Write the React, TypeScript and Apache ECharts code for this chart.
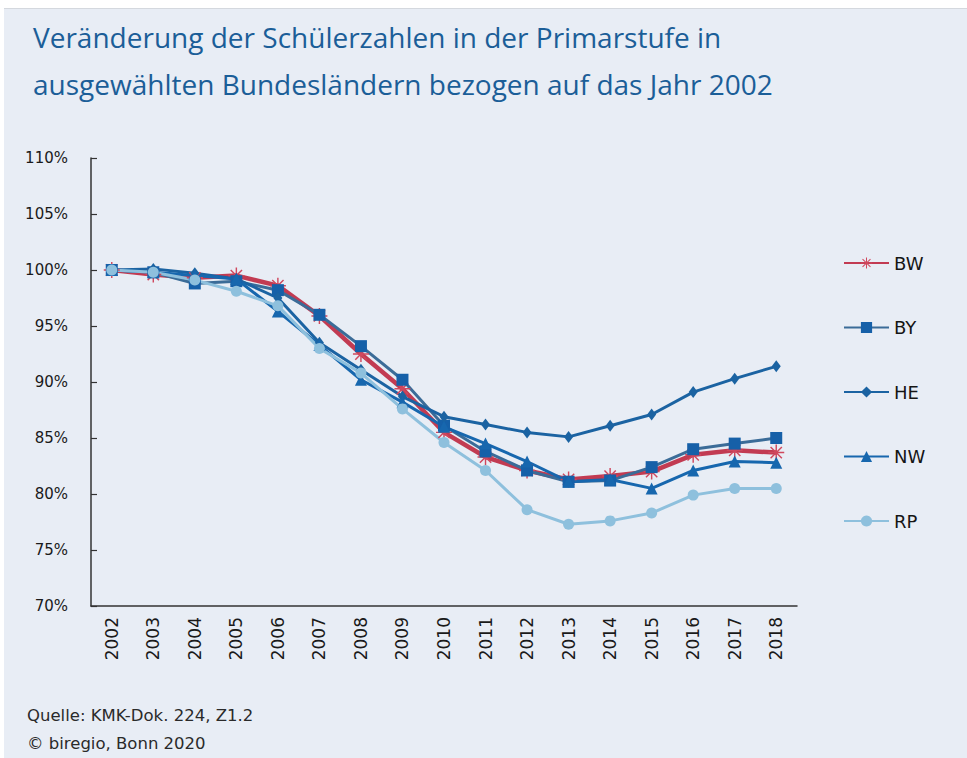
import React, { useEffect, useRef } from "react";
import * as echarts from "echarts";

const years = ["2002", "2003", "2004", "2005", "2006", "2007", "2008", "2009", "2010", "2011", "2012", "2013", "2014", "2015", "2016", "2017", "2018"];
const bw = [100, 99.6, 99.3, 99.5, 98.6, 95.9, 92.5, 89.4, 85.5, 83.3, 82.1, 81.3, 81.6, 82.0, 83.5, 83.9, 83.7];
const by = [100, 99.8, 98.8, 99.0, 98.2, 96.0, 93.2, 90.2, 86.1, 83.8, 82.1, 81.1, 81.2, 82.4, 84.0, 84.5, 85.0];
const he = [100, 100.1, 99.7, 99.2, 97.5, 93.5, 91.1, 88.7, 86.9, 86.2, 85.5, 85.1, 86.1, 87.1, 89.1, 90.3, 91.4];
const nw = [100, 99.8, 99.5, 99.2, 96.3, 93.3, 90.2, 88.2, 86.0, 84.5, 82.9, 81.1, 81.3, 80.5, 82.1, 82.9, 82.8];
const rp = [100, 99.8, 99.1, 98.1, 96.8, 93.0, 90.8, 87.6, 84.6, 82.1, 78.6, 77.3, 77.6, 78.3, 79.9, 80.5, 80.5];
const yTicks = { min: 70, max: 110, step: 5 };
const titleLines = ["Veränderung der Schülerzahlen in der Primarstufe in", "ausgewählten Bundesländern bezogen auf das Jahr 2002"];
const footer = ["Quelle: KMK-Dok. 224, Z1.2", "© biregio, Bonn 2020"];

function asteriskPath(): string {
  const angles = [0, 45, 90, 135];
  const L = 10, W = 0.9;
  let d = "";
  for (const a of angles) {
    const r = (a * Math.PI) / 180;
    const dx = Math.cos(r), dy = Math.sin(r);
    const nx = -dy, ny = dx;
    const p = [
      [L * dx + W * nx, L * dy + W * ny],
      [L * dx - W * nx, L * dy - W * ny],
      [-L * dx - W * nx, -L * dy - W * ny],
      [-L * dx + W * nx, -L * dy + W * ny],
    ].map(([x, y]) => [(x + 10).toFixed(2), (y + 10).toFixed(2)]);
    d += `M${p[0][0]} ${p[0][1]} L${p[1][0]} ${p[1][1]} L${p[2][0]} ${p[2][1]} L${p[3][0]} ${p[3][1]} Z `;
  }
  return "path://" + d.trim();
}

export default function App() {
  const ref = useRef<HTMLDivElement>(null);
  useEffect(() => {
    document.body.style.margin = "0";
    if (!ref.current) return;
    const chart = echarts.init(ref.current, null, { renderer: "svg" });
    const axisFont = "DejaVu Sans";
    const mk = (name: string, data: number[], color: string, lineColor: string, width: number, symbol: string, size: any) => ({
      name,
      type: "line",
      data,
      symbol,
      symbolSize: size,
      showAllSymbol: true,
      lineStyle: { color: lineColor, width },
      itemStyle: { color, borderWidth: 0 },
      emphasis: { disabled: true },
    });
    chart.setOption({
      animation: false,
      backgroundColor: "#e8edf5",
      title: {
        text: titleLines.join("\n"),
        left: 33,
        top: 13,
        padding: 0,
        textStyle: { fontFamily: "Open Sans", fontSize: 28, fontWeight: 500, color: "#1b5e98", lineHeight: 47 },
      },
      graphic: [
        { type: "rect", left: 0, top: 0, shape: { width: 967, height: 8 }, style: { fill: "#ffffff" } },
        { type: "rect", left: 0, top: 0, shape: { width: 4, height: 758 }, style: { fill: "#ffffff" } },
        { type: "line", shape: { x1: 4, y1: 8.5, x2: 967, y2: 8.5 }, style: { stroke: "#d4d8de", lineWidth: 1 } },
        { type: "text", left: 27, top: 707, style: { text: footer[0], font: "16.5px 'DejaVu Sans'", fill: "#2a2a2a" } },
        { type: "text", left: 27, top: 735, style: { text: footer[1], font: "16.5px 'DejaVu Sans'", fill: "#2a2a2a" } },
      ],
      legend: {
        orient: "vertical",
        left: 843,
        top: 253,
        padding: 0,
        itemWidth: 45,
        itemHeight: 14,
        itemGap: 44.5,
        textStyle: { fontFamily: axisFont, fontSize: 18, color: "#151515", lineHeight: 20 },
        data: ["BW", "BY", "HE", "NW", "RP"],
      },
      grid: { left: 91, right: 170, top: 158, bottom: 152 },
      xAxis: {
        type: "category",
        data: years,
        boundaryGap: true,
        axisLine: { lineStyle: { color: "#333", width: 1.5 } },
        axisTick: { inside: true, length: 6, lineStyle: { color: "#333", width: 1.2 } },
        axisLabel: { rotate: 90, margin: 11, fontFamily: axisFont, fontSize: 17, color: "#1a1a1a" },
      },
      yAxis: {
        type: "value",
        min: yTicks.min,
        max: yTicks.max,
        interval: yTicks.step,
        splitLine: { show: false },
        axisLine: { show: true, lineStyle: { color: "#333", width: 1.5 } },
        axisTick: { show: true, inside: true, length: 6, lineStyle: { color: "#333", width: 1.2 } },
        axisLabel: { formatter: "{value}%", margin: 23, fontFamily: axisFont, fontSize: 15, color: "#1a1a1a" },
      },
      series: [
        mk("BW", bw, "#d0485e", "#c23b52", 4.5, asteriskPath(), 16),
        mk("BY", by, "#1660a8", "#3b6c98", 3, "rect", 12),
        mk("HE", he, "#1b63a2", "#1b63a2", 3, "diamond", [9, 12]),
        mk("NW", nw, "#1767ae", "#1767ae", 3, "triangle", 12),
        mk("RP", rp, "#8ec0dd", "#8ec0dd", 3, "circle", 11),
      ],
    });
    return () => chart.dispose();
  }, []);
  return <div ref={ref} style={{ width: 967, height: 758 }} />;
}
